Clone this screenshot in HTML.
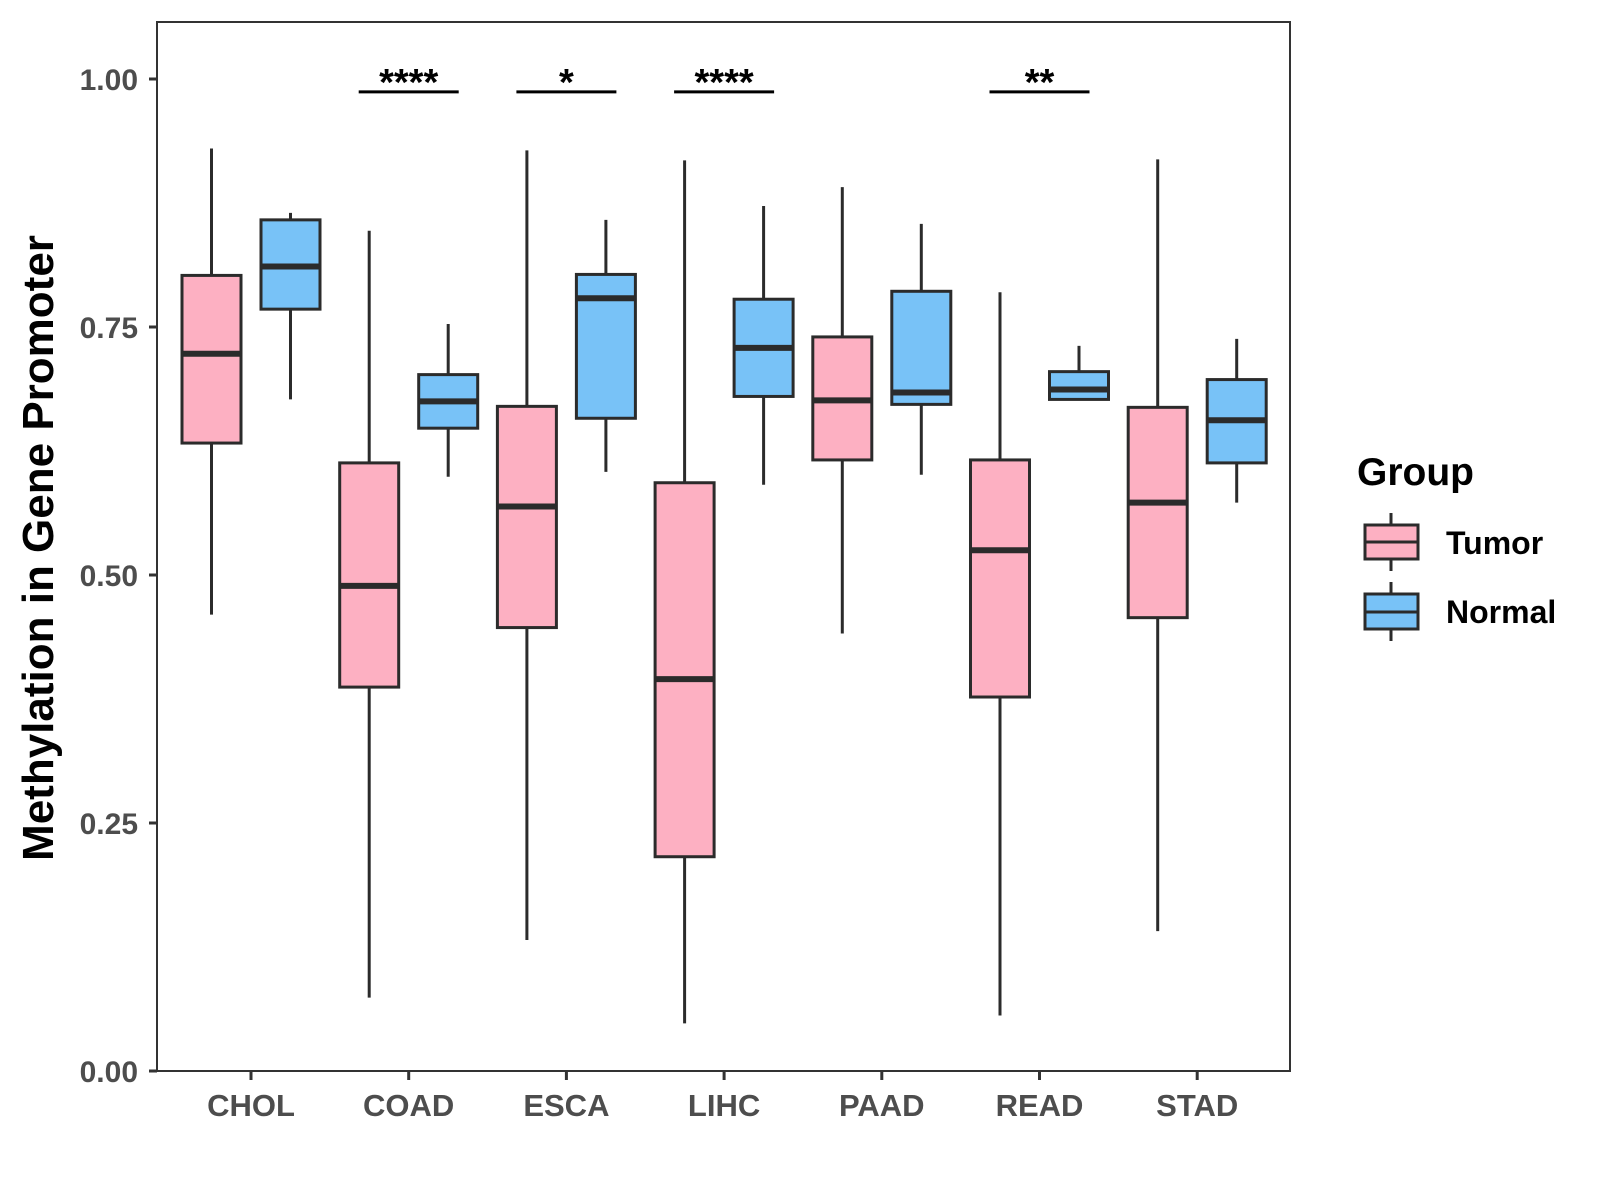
<!DOCTYPE html>
<html><head><meta charset="utf-8"><style>
html,body{margin:0;padding:0;background:#fff;}
svg{display:block;font-family:"Liberation Sans",Arial,sans-serif;}
</style></head><body>
<svg id="chart" width="1600" height="1200" viewBox="0 0 1600 1200" xmlns="http://www.w3.org/2000/svg">
<rect x="157" y="22" width="1133" height="1049" fill="#fff" stroke="#333" stroke-width="2"/>
<g id="axes"></g>
<g id="marks"></g>
<g id="sig"></g>
<text transform="translate(53,548) rotate(-90)" text-anchor="middle" font-size="44" font-weight="bold" fill="#000">Methylation in Gene Promoter</text>
<g>
<text x="1357" y="485" font-size="39" font-weight="bold" fill="#000">Group</text>
<g>
<line x1="1391" y1="513" x2="1391" y2="571" stroke="#2b2b2b" stroke-width="3"/>
<rect x="1365" y="525" width="53" height="34" fill="#FDB0C2" stroke="#2b2b2b" stroke-width="3"/>
<line x1="1365" y1="542" x2="1418" y2="542" stroke="#2b2b2b" stroke-width="3"/>
<text x="1446" y="554" font-size="32" font-weight="bold" fill="#000">Tumor</text>
</g>
<g>
<line x1="1391" y1="582" x2="1391" y2="641" stroke="#2b2b2b" stroke-width="3"/>
<rect x="1365" y="594" width="53" height="35" fill="#78C2F7" stroke="#2b2b2b" stroke-width="3"/>
<line x1="1365" y1="612" x2="1418" y2="612" stroke="#2b2b2b" stroke-width="3"/>
<text x="1446" y="623" font-size="32" font-weight="bold" fill="#000">Normal</text>
</g>
</g>
</svg>
<script>
const categories = ["CHOL","COAD","ESCA","LIHC","PAAD","READ","STAD"];
// [lower whisker, Q1, median, Q3, upper whisker]
const tumorStats = [
  [0.460,0.633,0.723,0.802,0.930],
  [0.074,0.387,0.489,0.613,0.847],
  [0.132,0.447,0.569,0.670,0.928],
  [0.048,0.216,0.395,0.593,0.918],
  [0.441,0.616,0.676,0.740,0.891],
  [0.056,0.377,0.525,0.616,0.785],
  [0.141,0.457,0.573,0.669,0.919]
];
const normalStats = [
  [0.677,0.768,0.811,0.858,0.865],
  [0.599,0.648,0.675,0.702,0.753],
  [0.604,0.658,0.779,0.803,0.858],
  [0.591,0.680,0.729,0.778,0.872],
  [0.601,0.672,0.684,0.786,0.854],
  [0.676,0.677,0.687,0.705,0.731],
  [0.573,0.613,0.656,0.697,0.738]
];
const sigLabels = ["","****","*","****","","**",""];
const yTicks = [0,0.25,0.5,0.75,1.0];
const yTickLabels = ["0.00","0.25","0.50","0.75","1.00"];
const sigLevel = 0.988;

const NS="http://www.w3.org/2000/svg";
function y(v){return 1071 - v*992;}
function x(i){return 251 + i*157.7;}
function mk(tag,attrs,parent){const e=document.createElementNS(NS,tag);for(const k in attrs)e.setAttribute(k,attrs[k]);parent.appendChild(e);return e;}
const axes=document.getElementById('axes'), marks=document.getElementById('marks'), sig=document.getElementById('sig');

yTicks.forEach((v,i)=>{
  const t=mk('line',{x1:149,x2:157,y1:y(v),y2:y(v),stroke:'#333','stroke-width':3},axes);
  
  
  const l=mk('text',{x:138,y:y(v)+11,'text-anchor':'end','font-size':30,'font-weight':'bold',fill:'#4d4d4d'},axes);
  l.textContent=yTickLabels[i];
  
  
});
categories.forEach((c,i)=>{
  const t=mk('line',{x1:x(i),x2:x(i),y1:1071,y2:1080,stroke:'#333','stroke-width':3},axes);
  
  
  const l=mk('text',{x:x(i),y:1116,'text-anchor':'middle','font-size':31,'font-weight':'bold',fill:'#4d4d4d'},axes);
  l.textContent=c;
  
  
});
function box(cx,s,fill,name){
  const g=mk('g',{},marks);
  
  
  const w=29.5;
  mk('line',{x1:cx,x2:cx,y1:y(s[4]),y2:y(s[0]),stroke:'#2b2b2b','stroke-width':3},g);
  mk('rect',{x:cx-w,y:y(s[3]),width:2*w,height:y(s[1])-y(s[3]),fill:fill,stroke:'#2b2b2b','stroke-width':3},g);
  mk('line',{x1:cx-w,x2:cx+w,y1:y(s[2]),y2:y(s[2]),stroke:'#2b2b2b','stroke-width':6},g);
}
categories.forEach((c,i)=>{
  box(x(i)-39.5,tumorStats[i],'#FDB0C2','box-tumor-'+c.toLowerCase());
  box(x(i)+39.5,normalStats[i],'#78C2F7','box-normal-'+c.toLowerCase());
  if(sigLabels[i]){
    const ln=mk('line',{x1:x(i)-50,x2:x(i)+50,y1:y(sigLevel)+1,y2:y(sigLevel)+1,stroke:'#000','stroke-width':3},sig);
    
    
    const t=mk('text',{x:x(i),y:y(sigLevel)+4,'text-anchor':'middle','font-size':38,'font-weight':'bold',fill:'#000'},sig);
    t.textContent=sigLabels[i];
    
    
  }
});
</script>
</body></html>
